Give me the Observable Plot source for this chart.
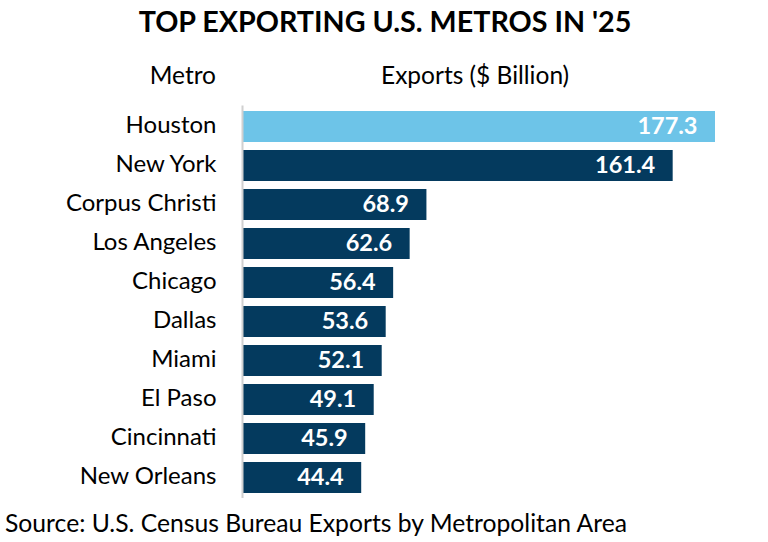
<!DOCTYPE html>
<html>
<head>
<meta charset="utf-8">
<script src="https://cdn.jsdelivr.net/npm/d3@7"></script>
<script src="https://cdn.jsdelivr.net/npm/@observablehq/plot@0.6"></script>
<style>
  html, body { margin: 0; padding: 0; background: #fff; }
  #wrap { position: relative; width: 768px; height: 542px; font-family: Lato, "Open Sans", sans-serif; color: #000; overflow: hidden; }
  #title { position: absolute; left: 0; width: 770px; top: 3px; text-align: center; font-weight: 700; font-size: 28.7px; line-height: 36px; }
  .hdr { position: absolute; top: 60px; font-size: 24.5px; line-height: 30px; white-space: nowrap; }
  #hMetro { right: 552px; }
  #hExp { left: 381px; }
  #chart { position: absolute; left: 0; top: 100px; }
  #source { position: absolute; left: 5px; top: 508px; font-size: 24.7px; line-height: 30px; white-space: nowrap; }
</style>
</head>
<body>
<div id="wrap">
  <div id="title">TOP EXPORTING U.S. METROS IN '25</div>
  <div class="hdr" id="hMetro">Metro</div>
  <div class="hdr" id="hExp">Exports ($ Billion)</div>
  <div id="chart"></div>
  <div id="source">Source: U.S. Census Bureau Exports by Metropolitan Area</div>
</div>
<script>
const metros = ["Houston", "New York", "Corpus Christi", "Los Angeles", "Chicago", "Dallas", "Miami", "El Paso", "Cincinnati", "New Orleans"];
const exportsBn = [177.3, 161.4, 68.9, 62.6, 56.4, 53.6, 52.1, 49.1, 45.9, 44.4];
const highlight = "Houston";
const colorHighlight = "#6DC4E8";
const colorOther = "#043A5E";

const data = metros.map((m, i) => ({metro: m, value: exportsBn[i]}));

const chart = Plot.plot({
  width: 768,
  height: 400,
  marginLeft: 243,
  marginRight: 53,
  marginTop: 5.4,
  marginBottom: 1.9,
  style: {fontFamily: "Lato, 'Open Sans', sans-serif", background: "#fff", color: "#000"},
  x: {domain: [0, 177.3], axis: null},
  y: {domain: metros, paddingInner: 0.2, paddingOuter: 0.1, label: null},
  marks: [
    Plot.barX(data, {
      y: "metro",
      x: "value",
      fill: d => d.metro === highlight ? colorHighlight : colorOther
    }),
    Plot.ruleX([0], {stroke: "#d0d0d0", strokeWidth: 2, dx: -1}),
    Plot.axisY({tickSize: 0, tickPadding: 27, fontSize: 24, label: null, fill: "#000", dy: -1.5}),
    Plot.text(data, {
      y: "metro",
      x: "value",
      text: d => d.value.toFixed(1),
      textAnchor: "end",
      dx: -18,
      dy: -1,
      fill: "#fff",
      fontWeight: "bold",
      fontSize: 23.5
    })
  ]
});
document.getElementById("chart").appendChild(chart);
</script>
</body>
</html>
